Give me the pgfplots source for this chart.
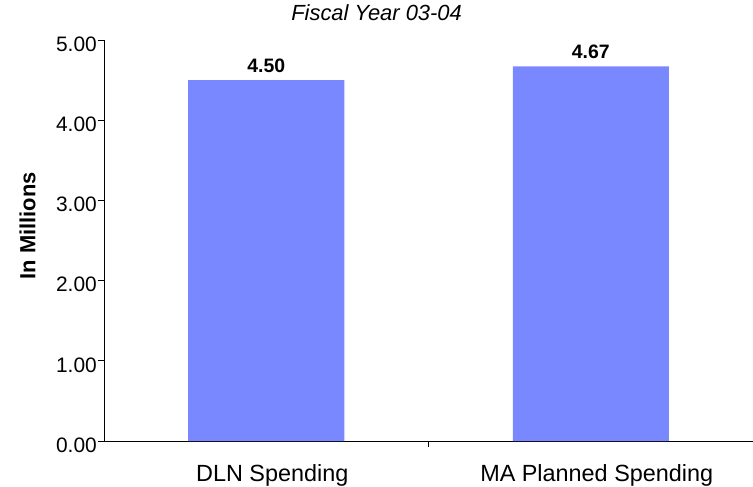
\documentclass[border=0pt]{standalone}
\usepackage{fontspec}
\setmainfont{Liberation Sans}
\usepackage{pgfplots}
\pgfplotsset{compat=1.18}
\definecolor{barblue}{RGB}{122,136,255}
\begin{document}
\begin{tikzpicture}
\begin{axis}[
  name=ax,
  at={(0,0)}, anchor=south west,
  scale only axis,
  width=649bp, height=401bp,
  xmin=-0.5, xmax=1.5,
  ymin=0, ymax=5,
  axis lines*=left,
  axis line style={line width=0.9bp, black},
  clip=false,
  tick align=outside,
  major tick length=6bp,
  tick style={line width=0.9bp, black},
  xtick={0.5}, xticklabels={},
  extra x ticks={0,1},
  extra x tick labels={DLN Spending, MA Planned Spending},
  extra x tick style={major tick length=0pt},
  xticklabel style={font=\fontsize{23.5}{26}\selectfont, anchor=base, yshift=-40bp, xshift=6bp, inner sep=0pt},
  ytick={0,1,2,3,4,5},
  yticklabel style={font=\fontsize{21}{24}\selectfont, anchor=east, inner sep=0pt, xshift=-1bp, yshift=-4bp},
  /pgf/number format/assume math mode=true,
  yticklabel={\pgfmathprintnumber[fixed, fixed zerofill, precision=2]{\tick}},
  ymajorgrids=false,
]
\addplot[ybar, bar width=156bp, fill=barblue, draw=none,
  nodes near coords,
  nodes near coords style={font=\bfseries\fontsize{19.5}{22}\selectfont, anchor=base, yshift=8bp, inner sep=0pt,
    /pgf/number format/.cd, fixed, fixed zerofill, precision=2, assume math mode=true},
] coordinates {(0,4.50) (1,4.67)};
\node[font=\itshape\fontsize{22}{24}\selectfont, anchor=center, yshift=27bp] at (rel axis cs:0.42,1) {Fiscal Year 03-04};
\node[font=\bfseries\fontsize{22}{24}\selectfont, xshift=-76.5bp, rotate=90, anchor=center] at (rel axis cs:0,0.537) {In Millions};
\end{axis}
\pgfresetboundingbox
\path[use as bounding box] (-104bp,-46bp) rectangle (649bp,441bp);
\end{tikzpicture}
\end{document}
